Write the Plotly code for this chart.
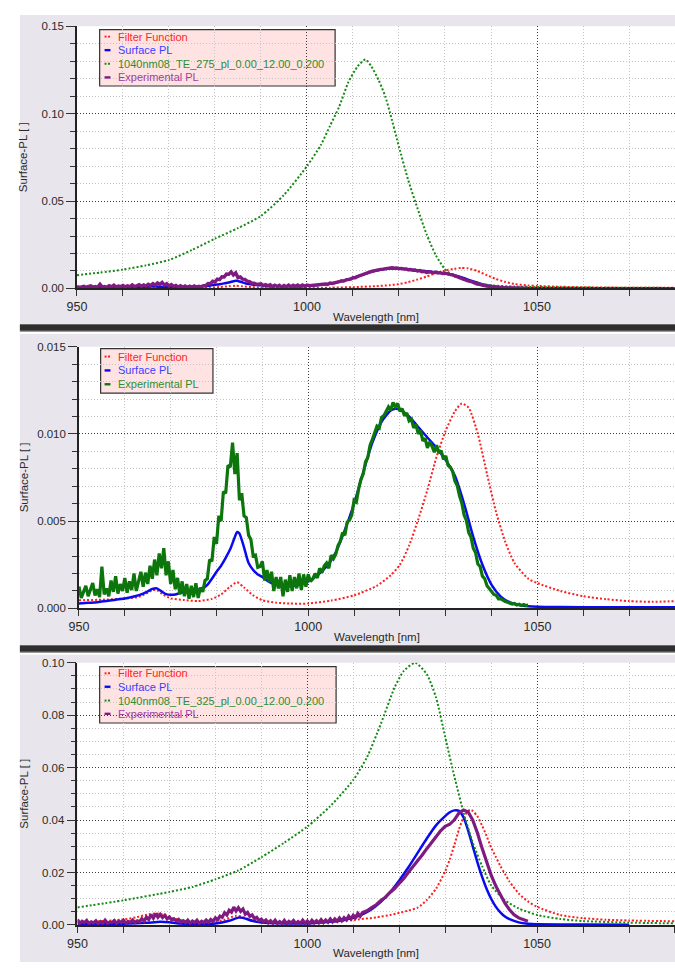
import numpy as np
import plotly.graph_objects as go

W, H = 675, 968
FONT = "Arial, Liberation Sans, sans-serif"

# ---------------------------------------------------------------
# Measured / simulated spectra (wavelength in nm, Surface-PL a.u.)
# ---------------------------------------------------------------

# Filter function (TE_275 run, panels 1 and 2)
filter_wl = [950, 955, 960, 963, 965, 966, 967, 968, 970, 973,
             976, 979, 981, 983, 984.5, 986, 988, 990, 993, 996,
             1000, 1005, 1010, 1015, 1018, 1020, 1022, 1024, 1026, 1028,
             1030, 1032, 1033.5, 1035, 1037, 1039, 1041, 1043, 1045, 1048,
             1050, 1055, 1060, 1065, 1070, 1075, 1080]
filter_fn = [0.00047, 0.00050, 0.00057, 0.00066, 0.00090, 0.00105, 0.00105, 0.00085, 0.00058, 0.00048,
             0.00042, 0.00055, 0.00080, 0.00125, 0.00150, 0.00120, 0.00075, 0.00047, 0.00033, 0.00028,
             0.00028, 0.00045, 0.00075, 0.00130, 0.00190, 0.00250, 0.00360, 0.00510, 0.00680, 0.00870,
             0.01020, 0.01130, 0.01175, 0.01150, 0.01000, 0.00770, 0.00550, 0.00380, 0.00260, 0.00170,
             0.00145, 0.00100, 0.00070, 0.00053, 0.00042, 0.00038, 0.00042]

# Surface PL (TE_275 run, panels 1 and 2)
surf_wl = [950, 952, 954, 956, 958, 960, 962, 964, 965, 966,
           967, 968, 969, 970, 971, 972, 974, 976, 977, 978,
           979, 980, 981, 982, 983, 984, 984.5, 985, 986, 987,
           988, 989, 990, 991, 992, 994, 996, 998, 1000, 1002,
           1004, 1006, 1008, 1010, 1012, 1014, 1016, 1018, 1019, 1020,
           1022, 1024, 1026, 1028, 1030, 1032, 1034, 1036, 1038, 1040,
           1042, 1044, 1046, 1048, 1050, 1055, 1065, 1080]
surf_pl = [0.00028, 0.00032, 0.00036, 0.00042, 0.00050, 0.00057, 0.00068, 0.00085, 0.00098, 0.00112,
           0.00115, 0.00098, 0.00082, 0.00078, 0.00080, 0.00088, 0.00098, 0.00108, 0.00115, 0.00135,
           0.00170, 0.00210, 0.00245, 0.00290, 0.00340, 0.00410, 0.00438, 0.00430, 0.00350, 0.00260,
           0.00220, 0.00195, 0.00180, 0.00160, 0.00145, 0.00132, 0.00128, 0.00135, 0.00155, 0.00190,
           0.00240, 0.00320, 0.00450, 0.00600, 0.00780, 0.00950, 0.01070, 0.01135, 0.01145, 0.01140,
           0.01100, 0.01040, 0.00980, 0.00920, 0.00850, 0.00760, 0.00600, 0.00410, 0.00250, 0.00135,
           0.00068, 0.00035, 0.00020, 0.00013, 0.00010, 0.00008, 0.00007, 0.00007]

# Simulated spectrum 1040nm08_TE_275_pl_0.00_12.00_0.200 (panel 1)
te275_wl = [950, 955, 960, 965, 970, 975, 980, 985, 990, 995,
            1000, 1003, 1005, 1007, 1009, 1011, 1012.7, 1014, 1015.6, 1017,
            1018, 1020, 1022, 1024, 1026, 1028, 1030, 1032, 1035, 1040,
            1045, 1050, 1060, 1070, 1080]
te275 = [0.0076, 0.0091, 0.0108, 0.0132, 0.0163, 0.0220, 0.0285, 0.0345, 0.0415, 0.0535,
         0.0700, 0.0820, 0.0930, 0.1040, 0.1180, 0.1270, 0.1310, 0.1270, 0.1190, 0.1100,
         0.1010, 0.0810, 0.0620, 0.0460, 0.0310, 0.0190, 0.0110, 0.0070, 0.0042, 0.0018,
         0.0011, 0.0008, 0.0005, 0.0004, 0.0003]

# Experimental PL, 0.5 nm steps from 950 to 1048 nm (values in units of 1e-3)
exp_wl = np.arange(950, 1048.5, 0.5)
exp_pl_milli = [
    1.25, 0.60, 0.95, 1.30, 0.70, 1.05, 1.45, 0.75, 1.10, 0.65,   # 950-954.5
    2.40, 0.80, 1.15, 0.70, 1.60, 0.95, 1.85, 0.85, 1.40, 1.00,   # 955-959.5
    1.75, 0.90, 1.55, 1.05, 2.00, 1.00, 1.55, 2.10, 1.25, 2.05,   # 960-964.5
    1.40, 2.45, 1.70, 2.80, 1.90, 3.15, 2.30, 3.45, 1.90, 2.70,   # 965-969.5
    1.40, 2.20, 1.10, 1.75, 0.80, 1.55, 0.70, 1.40, 0.55, 1.30,   # 970-974.5
    0.65, 1.45, 0.60, 1.20, 0.95, 1.60, 1.70, 2.80, 2.70, 4.10,   # 975-979.5
    3.70, 5.30, 5.00, 6.70, 6.60, 8.20, 8.10, 9.50, 7.70, 8.90,   # 980-984.5
    6.20, 6.60, 5.30, 5.20, 4.20, 3.95, 3.00, 3.05, 2.35, 2.40,   # 985-989.5
    2.70, 1.60, 2.20, 1.50, 2.10, 1.00, 1.80, 1.15, 1.80, 0.70,   # 990-994.5
    1.65, 0.95, 1.90, 1.00, 1.80, 1.15, 2.00, 1.05, 1.95, 1.25,   # 995-999.5
    1.95, 1.55, 1.70, 2.00, 1.75, 2.30, 2.05, 2.45, 2.60, 2.30,   # 1000-1004.5
    3.05, 2.85, 3.10, 3.60, 3.85, 4.35, 4.20, 4.95, 5.05, 5.35,   # 1005-1009.5
    6.20, 6.10, 6.85, 7.40, 7.70, 8.40, 8.65, 9.35, 9.70, 10.05,  # 1010-1014.5
    10.45, 10.35, 10.95, 11.05, 11.30, 11.55, 11.35, 11.80, 11.55, 11.75,  # 1015-1019.5
    11.30, 11.45, 11.05, 11.20, 10.75, 10.85, 10.35, 10.55, 10.00, 10.20,  # 1020-1024.5
    9.60, 9.75, 9.20, 9.55, 9.30, 8.95, 9.35, 8.90, 9.05, 8.55,   # 1025-1029.5
    8.75, 8.20, 8.10, 7.85, 7.30, 7.05, 6.45, 6.05, 5.35, 5.05,   # 1030-1034.5
    4.35, 4.10, 3.45, 3.20, 2.55, 2.40, 1.85, 1.70, 1.30, 1.15,   # 1035-1039.5
    0.95, 0.80, 0.75, 0.55, 0.55, 0.45, 0.40, 0.35, 0.32, 0.25,   # 1040-1044.5
    0.28, 0.20, 0.24, 0.17, 0.22, 0.16, 0.20,                     # 1045-1048
]
exp_pl = [v * 1e-3 for v in exp_pl_milli]

# TE_325 run (panel 3)
filter3_wl = [950, 955, 960, 963, 965, 967, 969, 971, 973, 976,
              980, 982, 984.5, 986, 988, 990, 995, 1000, 1005, 1010,
              1015, 1018, 1020, 1022, 1024, 1026, 1028, 1030, 1031, 1032,
              1033, 1034, 1035, 1035.5, 1036, 1037, 1038, 1039, 1040, 1041,
              1042, 1043, 1044, 1046, 1048, 1050, 1055, 1060, 1065, 1070,
              1080]
filter3 = [0.0010, 0.0014, 0.0021, 0.0030, 0.0039, 0.0044, 0.0038, 0.0025, 0.0016, 0.0012,
           0.0013, 0.0020, 0.0035, 0.0030, 0.0018, 0.0012, 0.0009, 0.0009, 0.0012, 0.0019,
           0.0029, 0.0038, 0.0046, 0.0055, 0.0066, 0.0095, 0.0138, 0.0205, 0.0250, 0.0305,
           0.0365, 0.0410, 0.0435, 0.0439, 0.0435, 0.0415, 0.0380, 0.0340, 0.0295, 0.0260,
           0.0225, 0.0195, 0.0165, 0.0120, 0.0090, 0.0069, 0.0038, 0.0026, 0.0020, 0.0017,
           0.0014]

surf3_wl = [950, 960, 965, 968, 970, 972, 975, 980, 983, 985,
            986, 988, 990, 995, 1000, 1005, 1008, 1010, 1012, 1014,
            1016, 1018, 1020, 1022, 1024, 1026, 1028, 1030, 1031, 1032,
            1033, 1034, 1035, 1036, 1037, 1038, 1039, 1040, 1041, 1042,
            1043, 1044, 1046, 1048, 1050, 1060, 1070]
surf3 = [0.0003, 0.0005, 0.0008, 0.0012, 0.0010, 0.0006, 0.0005, 0.0006, 0.0016, 0.0028,
         0.0027, 0.0016, 0.0009, 0.0006, 0.0006, 0.0012, 0.0019, 0.0027, 0.0040, 0.0060,
         0.0088, 0.0125, 0.0170, 0.0220, 0.0275, 0.0330, 0.0380, 0.0415, 0.0430, 0.0437,
         0.0435, 0.0410, 0.0360, 0.0300, 0.0240, 0.0185, 0.0138, 0.0100, 0.0070, 0.0048,
         0.0032, 0.0022, 0.0010, 0.0005, 0.0003, 0.00015, 0.0001]

te325_wl = [950, 960, 970, 975, 980, 985, 990, 995, 1000, 1005,
            1010, 1013, 1016, 1019, 1021, 1023.5, 1026, 1028, 1030, 1032,
            1034, 1036, 1038, 1040, 1043, 1046, 1050, 1055, 1060, 1070,
            1080]
te325 = [0.0067, 0.0094, 0.0126, 0.0145, 0.0174, 0.0208, 0.0258, 0.0314, 0.0375, 0.0453,
         0.0553, 0.0640, 0.0767, 0.0906, 0.0969, 0.1000, 0.0956, 0.0868, 0.0717, 0.0566,
         0.0428, 0.0314, 0.0226, 0.0151, 0.0094, 0.0063, 0.0038, 0.0023, 0.0015, 0.0009,
         0.0006]

# Experimental PL for TE_325: 0.5 nm steps to 1012 nm, then 1 nm steps (units of 1e-3)
exp3_wl = list(np.arange(950, 1012.5, 0.5)) + list(range(1013, 1049))
exp3_milli = [
    2.1, 0.6, 1.4, 0.9, 1.7, 0.5, 1.2, 0.8, 1.6, 0.5,   # 950-954.5
    1.3, 0.7, 1.8, 0.6, 1.1, 0.9, 1.7, 0.6, 1.5, 0.9,   # 955-959.5
    1.8, 0.7, 1.4, 1.0, 1.9, 0.9, 1.6, 1.2, 2.4, 1.5,   # 960-964.5
    3.0, 2.1, 3.9, 2.6, 4.3, 2.9, 4.0, 2.8, 3.7, 2.3,   # 965-969.5
    3.0, 1.9, 2.3, 1.5, 2.1, 1.0, 1.6, 0.9, 1.8, 0.7,   # 970-974.5
    1.5, 0.9, 1.8, 0.6, 1.4, 0.9, 1.9, 1.0, 2.1, 1.4,   # 975-979.5
    2.7, 2.0, 3.4, 2.9, 4.7, 3.8, 5.6, 4.9, 6.8, 5.3,   # 980-984.5
    6.6, 5.2, 6.1, 4.1, 4.8, 3.3, 3.8, 2.4, 2.9, 1.6,   # 985-989.5
    2.2, 1.2, 1.9, 0.8, 1.6, 0.7, 1.8, 0.6, 1.3, 0.6,   # 990-994.5
    1.7, 0.5, 1.4, 0.7, 1.7, 0.6, 1.3, 0.6, 1.8, 0.7,   # 995-999.5
    1.5, 0.6, 1.8, 0.8, 1.6, 0.8, 2.0, 0.9, 1.9, 1.0,   # 1000-1004.5
    2.3, 1.2, 2.3, 1.4, 2.7, 1.6, 2.8, 1.9, 3.4, 2.3,   # 1005-1009.5
    3.7, 2.8, 4.4, 3.3, 4.7,                             # 1010-1012
    5.4, 6.6, 7.7, 9.3, 10.6, 12.4, 13.9, 15.9, 17.7, 20.1,   # 1013-1022
    22.2, 24.6, 26.7, 29.1, 31.4, 34.0, 35.9, 37.6, 38.4, 40.1,  # 1023-1032
    42.7, 43.8, 43.1, 40.0, 35.2, 29.4, 24.1, 19.0, 14.9, 11.3,  # 1033-1042
    8.3, 5.8, 3.9, 2.7, 1.9, 1.4,                                # 1043-1048
]
exp3 = [v * 1e-3 for v in exp3_milli]

assert len(exp_wl) == len(exp_pl)
assert len(exp3_wl) == len(exp3)

# ---------------------------------------------------------------
# Styling
# ---------------------------------------------------------------
RED = "#FF1E1E"
BLUE = "#0A0AF0"
DGREEN = "#148A14"
PURPLE = "#7E1A80"
EXPGREEN = "#0C760C"
PANEL_BG = "#E8E6EC"
DOTS = "2px,2px"
GRID_DOTS = "1px,2px"
TEXT = "#2a2a2a"


def px(x):
    return x / W


def py(y):
    return 1 - y / H


# plot areas in page pixels: (left, top, bottom), y range and ticks
panels = [
    dict(left=68, top=20.5, bottom=286, ymax=0.15, dtick=0.05, minor=0.01, fmt=".2f"),
    dict(left=70, top=345, bottom=610, ymax=0.015, dtick=0.005, minor=0.001, fmt=".3f"),
    dict(left=68.5, top=665, bottom=930.5, ymax=0.10, dtick=0.02, minor=0.005, fmt=".2f"),
]

fig = go.Figure()


def line(n, x, y, color, width, dash=None, smooth=True):
    fig.add_trace(go.Scatter(
        x=x, y=y, mode="lines", xaxis=f"x{n}", yaxis=f"y{n}",
        line=dict(color=color, width=width, dash=dash,
                  shape="spline" if smooth else "linear", smoothing=0.6),
        showlegend=False, hoverinfo="skip"))


# panel 1
line(1, filter_wl, filter_fn, RED, 2, DOTS)
line(1, surf_wl, surf_pl, BLUE, 2.5)
line(1, te275_wl, te275, DGREEN, 2, DOTS)
line(1, exp_wl, exp_pl, PURPLE, 3.4, smooth=False)
# panel 2
line(2, filter_wl, filter_fn, RED, 2, DOTS)
line(2, surf_wl, surf_pl, BLUE, 2.5)
line(2, exp_wl, exp_pl, EXPGREEN, 3.2, smooth=False)
# panel 3
line(3, filter3_wl, filter3, RED, 2, DOTS)
line(3, surf3_wl, surf3, BLUE, 2.5)
line(3, te325_wl, te325, DGREEN, 2, DOTS)
line(3, exp3_wl, exp3, PURPLE, 3.2, smooth=False)

layout = dict(
    width=W, height=H, margin=dict(l=0, r=0, t=0, b=0),
    paper_bgcolor="white", plot_bgcolor="rgba(0,0,0,0)",
    showlegend=False, font=dict(family=FONT, color=TEXT),
)

shapes = []
annotations = []

# panel frames (grey boxes) and separators
panel_boxes = [(9, 322), (332, 647), (657, 968)]
for top, bot in panel_boxes:
    shapes.append(dict(type="rect", xref="paper", yref="paper", layer="below",
                       x0=px(10), x1=1, y0=py(bot), y1=py(top),
                       fillcolor=PANEL_BG, line=dict(width=0)))
for sy in (322, 647):
    for dy0, dy1, col in [(0, 1, "#6a6a6a"), (1, 6, "#2e2e2e"), (6, 7, "#555555"), (7, 8, "#9a9a9a")]:
        shapes.append(dict(type="rect", xref="paper", yref="paper", layer="below",
                           x0=px(10), x1=1, y0=py(sy + dy1), y1=py(sy + dy0),
                           fillcolor=col, line=dict(width=0)))

for i, p in enumerate(panels, start=1):
    sfx = "" if i == 1 else str(i)
    # white plotting area
    shapes.append(dict(type="rect", xref="paper", yref="paper", layer="below",
                       x0=px(p["left"]), x1=1, y0=py(p["bottom"]), y1=py(p["top"]),
                       fillcolor="white", line=dict(width=0)))
    layout["xaxis" + sfx] = dict(
        domain=[px(p["left"]), 1], range=[950, 1080], anchor="y" + sfx,
        tick0=950, dtick=50, ticks="outside", ticklen=6, tickwidth=1, tickcolor="#333",
        showline=True, linecolor="#222", linewidth=1.5,
        showgrid=True, gridcolor="#3a3a3a", griddash=GRID_DOTS, gridwidth=1,
        zeroline=False, tickfont=dict(size=12.5, color=TEXT, family=FONT),
        minor=dict(dtick=10, tick0=950, ticks="outside", ticklen=6, tickcolor="#333",
                   showgrid=True, gridcolor="#c4c4c4", griddash=GRID_DOTS, gridwidth=1),
    )
    layout["yaxis" + sfx] = dict(
        domain=[py(p["bottom"]), py(p["top"])], range=[0, p["ymax"] * 1.00001],
        anchor="x" + sfx, tick0=0, dtick=p["dtick"], tickformat=p["fmt"],
        ticks="outside", ticklen=9, tickwidth=1, tickcolor="#333",
        showline=True, linecolor="#222", linewidth=1.5,
        showgrid=True, gridcolor="#3a3a3a", griddash=GRID_DOTS, gridwidth=1,
        zeroline=False, tickfont=dict(size=11.5, color=TEXT, family=FONT),
        minor=dict(dtick=p["minor"], ticks="outside", ticklen=5, tickcolor="#333",
                   showgrid=True, gridcolor="#c4c4c4", griddash=GRID_DOTS, gridwidth=1),
    )
    # axis titles
    annotations.append(dict(xref="paper", yref="paper", x=px((p["left"] + 675) / 2),
                            y=py(p["bottom"] + 28.5), text="Wavelength [nm]", showarrow=False,
                            xanchor="center", yanchor="middle",
                            font=dict(size=11.5, color=TEXT, family=FONT)))
    annotations.append(dict(xref="paper", yref="paper", x=px(14),
                            y=py((p["top"] + p["bottom"]) / 2), text="Surface-PL [ ]",
                            textangle=-90, showarrow=False, xanchor="center", yanchor="middle",
                            font=dict(size=11.5, color=TEXT, family=FONT)))

# legend boxes: (left, top, right, bottom, entries)
legends = [
    (91, 24, 330, 81, [31, 44.7, 58.5, 72.3], [
        ("dot", RED, "Filter Function", "#FF2424"),
        ("bar", BLUE, "Surface PL", "#3C3CFF"),
        ("dot", DGREEN, "1040nm08_TE_275_pl_0.00_12.00_0.200", "#2E8E2E"),
        ("bar", PURPLE, "Experimental PL", "#A03CA0"),
    ]),
    (92, 347, 206, 392, [355, 369, 383], [
        ("dot", RED, "Filter Function", "#FF2424"),
        ("bar", BLUE, "Surface PL", "#3C3CFF"),
        ("bar", EXPGREEN, "Experimental PL", "#2E8E2E"),
    ]),
    (91, 669, 331, 726, [675.7, 689.3, 703.3, 716.7], [
        ("dot", RED, "Filter Function", "#FF2424"),
        ("bar", BLUE, "Surface PL", "#3C3CFF"),
        ("dot", DGREEN, "1040nm08_TE_325_pl_0.00_12.00_0.200", "#2E8E2E"),
        ("bar", PURPLE, "Experimental PL", "#A03CA0"),
    ]),
]
for x0, y0, x1, y1, rows, entries in legends:
    shapes.append(dict(type="rect", xref="paper", yref="paper", layer="below",
                       x0=px(x0), x1=px(x1), y0=py(y1), y1=py(y0),
                       fillcolor="#FFE3E3", line=dict(color="#333333", width=1.2)))
    for yy, (kind, col, label, tcol) in zip(rows, entries):
        if kind == "dot":
            for dx in (96, 99.5):
                shapes.append(dict(type="rect", xref="paper", yref="paper", layer="above",
                                   x0=px(dx), x1=px(dx + 2), y0=py(yy + 1), y1=py(yy - 1),
                                   fillcolor=col, line=dict(width=0)))
        else:
            shapes.append(dict(type="rect", xref="paper", yref="paper", layer="above",
                               x0=px(96), x1=px(102), y0=py(yy + 1.2), y1=py(yy - 1.2),
                               fillcolor=col, line=dict(width=0)))
        annotations.append(dict(xref="paper", yref="paper", x=px(107.5), y=py(yy),
                                text=label, showarrow=False, xanchor="left", yanchor="middle",
                                font=dict(size=11, color=tcol, family=FONT)))

layout["shapes"] = shapes
layout["annotations"] = annotations
fig.update_layout(**layout)
fig.write_html("out.html")
